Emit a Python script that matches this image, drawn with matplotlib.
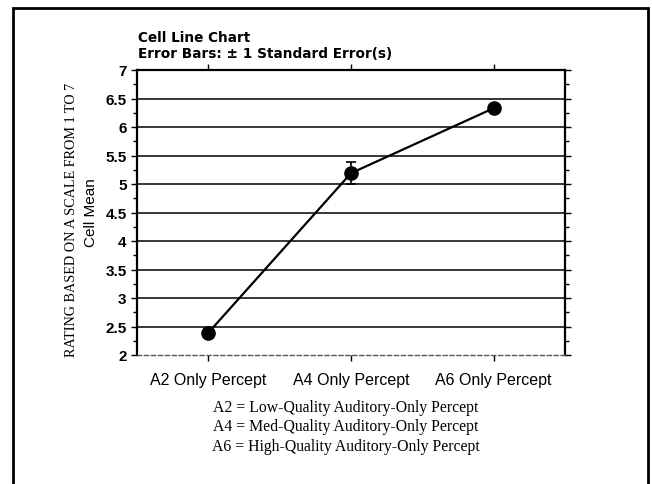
import numpy as np
import matplotlib
matplotlib.use("Agg")
import matplotlib.pyplot as plt
from matplotlib.patches import Rectangle
from matplotlib.ticker import MultipleLocator

# Cell means with +/- 1 standard error
categories = ["A2 Only Percept", "A4 Only Percept", "A6 Only Percept"]
cell_means = [2.39, 5.19, 6.33]
std_errors = [0.07, 0.19, 0.05]
y_ticks = [2, 2.5, 3, 3.5, 4, 4.5, 5, 5.5, 6, 6.5, 7]
notes = ["A2 = Low-Quality Auditory-Only Percept",
         "A4 = Med-Quality Auditory-Only Percept",
         "A6 = High-Quality Auditory-Only Percept"]

sans = "Liberation Sans"
serif = "Liberation Serif"

W, H = 652, 485
fig = plt.figure(figsize=(W / 100, H / 100), dpi=100)

# axes box in pixel coords: left 137, right 565, top 71, bottom 356
ax = fig.add_axes([137 / W, 1 - 356 / H, (565 - 137) / W, (356 - 71) / H])

x = np.arange(len(categories))
ax.errorbar(x, cell_means, yerr=std_errors, color="black", lw=1.6,
            marker="o", ms=9.5, capsize=3.5, capthick=1.2, elinewidth=1.2,
            zorder=5)

ax.set_xlim(-0.5, 2.5)
ax.set_ylim(2, 7)
ax.set_yticks(y_ticks)
ax.set_yticklabels([f"{v:g}" for v in y_ticks], fontfamily=sans,
                   fontsize=11, fontweight="bold")
ax.yaxis.set_minor_locator(MultipleLocator(0.25))
ax.set_xticks(x)
ax.set_xticklabels(categories, fontfamily=sans, fontsize=11.5)

for v in y_ticks[1:-1]:
    ax.axhline(v, color="black", lw=1.1, zorder=1)

ax.tick_params(axis="y", which="both", direction="out", left=True, right=True,
               labelright=False, length=4, width=1)
ax.tick_params(axis="y", which="minor", length=3)
ax.tick_params(axis="x", direction="out", top=True, bottom=True,
               length=4, width=1, pad=8)

for side in ["left", "right", "top"]:
    ax.spines[side].set_linewidth(1.6)
ax.spines["bottom"].set_linewidth(1.0)
ax.spines["bottom"].set_linestyle((0, (3, 2)))
ax.spines["bottom"].set_color("0.35")

# titles
fig.text(138 / W, 1 - 38 / H, "Cell Line Chart", fontfamily="DejaVu Sans",
         fontsize=9.8, fontweight="bold", ha="left", va="center")
fig.text(138 / W, 1 - 54 / H, "Error Bars: \u00b1 1 Standard Error(s)",
         fontfamily="DejaVu Sans", fontsize=9.8, fontweight="bold",
         ha="left", va="center")

# y labels
fig.text(91 / W, 1 - 213 / H, "Cell Mean", fontfamily=sans, fontsize=11,
         rotation=90, ha="center", va="center")
fig.text(72 / W, 1 - 220 / H, "RATING BASED ON A SCALE FROM 1 TO 7",
         fontfamily=serif, fontsize=10.2, rotation=90, ha="center", va="center")

# footnotes
for i, line in enumerate(notes):
    fig.text(346 / W, 1 - (408 + 19.5 * i) / H, line, fontfamily=serif,
             fontsize=11.3, ha="center", va="center")

# outer frame
fig.patches.append(Rectangle((13 / W, -0.05), (648 - 13) / W, 1 - 9 / H + 0.05,
                             transform=fig.transFigure, fill=False,
                             edgecolor="black", lw=2))

fig.savefig("out.png", dpi=100)
